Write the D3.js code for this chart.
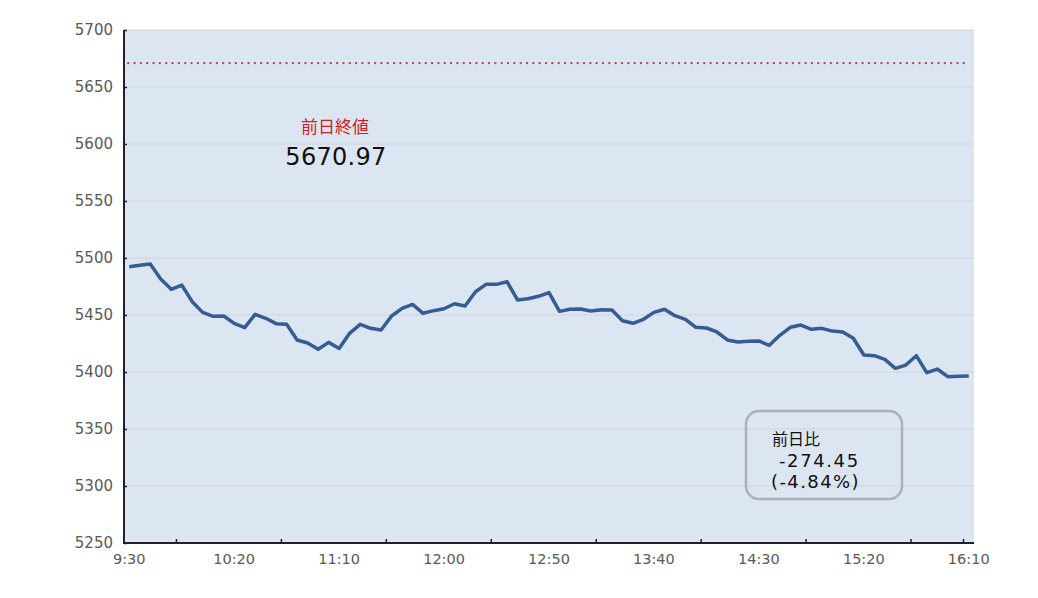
<!DOCTYPE html>
<html><head><meta charset="utf-8">
<script src="https://cdn.jsdelivr.net/npm/d3@7"></script>
<style>
html,body{margin:0;padding:0;background:#fff;}
svg{display:block;}
text{font-family:"DejaVu Sans","Noto Sans CJK JP",sans-serif;}
.cjk{font-family:"Noto Sans CJK JP","DejaVu Sans",sans-serif;}
</style></head>
<body>
<svg id="chart" width="1038" height="598"></svg>
<script>
const times = ["9:30","9:35","9:40","9:45","9:50","9:55","10:00","10:05","10:10","10:15",
"10:20","10:25","10:30","10:35","10:40","10:45","10:50","10:55","11:00","11:05",
"11:10","11:15","11:20","11:25","11:30","11:35","11:40","11:45","11:50","11:55",
"12:00","12:05","12:10","12:15","12:20","12:25","12:30","12:35","12:40","12:45",
"12:50","12:55","13:00","13:05","13:10","13:15","13:20","13:25","13:30","13:35",
"13:40","13:45","13:50","13:55","14:00","14:05","14:10","14:15","14:20","14:25",
"14:30","14:35","14:40","14:45","14:50","14:55","15:00","15:05","15:10","15:15",
"15:20","15:25","15:30","15:35","15:40","15:45","15:50","15:55","16:00","16:05","16:10"];
const values = [5492.4,5493.6,5494.7,5481.6,5472.5,5476.3,5461.7,5452.3,5448.8,5449.1,
5442.7,5438.9,5450.6,5447.1,5442.4,5441.8,5428.1,5425.4,5419.9,5426.0,
5420.7,5433.9,5441.8,5438.3,5436.8,5449.1,5455.8,5459.3,5451.5,5453.8,
5455.5,5459.9,5457.9,5470.4,5476.9,5476.9,5479.2,5463.2,5464.3,5466.4,
5469.6,5453.2,5455.0,5455.3,5453.5,5454.7,5454.4,5445.0,5442.7,5446.2,
5452.3,5455.0,5449.4,5446.2,5439.2,5438.6,5435.1,5428.1,5426.3,5426.9,
5427.2,5423.4,5432.2,5439.2,5441.2,5437.4,5438.3,5435.9,5435.1,5429.6,
5414.9,5414.3,5411.1,5403.2,5406.1,5414.3,5399.4,5402.6,5395.9,5396.2,5396.5];
const tickLabels = ["9:30","10:20","11:10","12:00","12:50","13:40","14:30","15:20","16:10"];
const tickMarkAt = ["9:55","10:45","11:35","12:25","13:15","14:05","14:55","15:45","16:10"];
const yTicks = [5250,5300,5350,5400,5450,5500,5550,5600,5650,5700];
const prevClose = 5670.97;
const prevLabel = "前日終値";
const diffLabel = "前日比";
const diffValue = "-274.45";
const diffPct = "(-4.84%)";

const svg = d3.select("#chart");
const L=124, R=974, T=30, B=543;
const x = d3.scaleBand().domain(times).range([L,R]).padding(0);
const bw = x.bandwidth();
const cx = t => x(t)+bw/2;
const y = d3.scaleLinear().domain([5250,5700]).range([B,T]);

svg.append("rect").attr("x",L).attr("y",T).attr("width",R-L).attr("height",B-T).attr("fill","#dce6f2");

// gridlines
svg.append("g").selectAll("line").data(yTicks.filter(v=>v>5250)).join("line")
  .attr("x1",L).attr("x2",R).attr("y1",d=>y(d)).attr("y2",d=>y(d))
  .attr("stroke","#d6d3d0").attr("stroke-width",1);

// y axis
const yAxis = d3.axisRight(y).tickValues(yTicks).tickSize(3).tickFormat("");
const gy = svg.append("g").attr("transform",`translate(${L},0)`).call(yAxis);
gy.select(".domain").remove();
gy.selectAll(".tick line").attr("stroke","#222").attr("stroke-width",1.5);
svg.append("line").attr("x1",L).attr("x2",L).attr("y1",T).attr("y2",B+1).attr("stroke","#222").attr("stroke-width",2);
svg.append("g").selectAll("text").data(yTicks).join("text")
  .attr("x",113).attr("y",d=>y(d)).attr("dy","0.36em").attr("text-anchor","end")
  .attr("font-size",15).attr("fill","#595959").text(d=>d);

// x axis
svg.append("line").attr("x1",L-1).attr("x2",R).attr("y1",B).attr("y2",B).attr("stroke","#222").attr("stroke-width",2);
svg.append("g").selectAll("line").data(tickMarkAt).join("line")
  .attr("x1",d=>x(d)).attr("x2",d=>x(d))
  .attr("y1",B).attr("y2",B-4).attr("stroke","#222").attr("stroke-width",1.5);
svg.append("g").selectAll("text").data(tickLabels).join("text")
  .attr("x",d=>cx(d)).attr("y",564).attr("text-anchor","middle")
  .attr("font-size",14.5).attr("fill","#595959").text(d=>d);

// previous close dotted line
svg.append("line").attr("x1",cx(times[0])-1).attr("x2",cx(times[times.length-1]))
  .attr("y1",y(prevClose)).attr("y2",y(prevClose))
  .attr("stroke","#d03a3a").attr("stroke-width",2.4).attr("stroke-linecap","round")
  .attr("stroke-dasharray","0 6.33");

// series line
const line = d3.line().x((d,i)=>cx(times[i])).y(d=>y(d));
svg.append("path").datum(values).attr("d",line).attr("fill","none")
  .attr("stroke","#335d93").attr("stroke-width",3.5).attr("stroke-linejoin","round");

// annotations
svg.append("text").attr("class","cjk").attr("x",335).attr("y",133).attr("text-anchor","middle")
  .attr("font-size",17).attr("fill","#cc1f1f").text(prevLabel);
svg.append("text").attr("x",336).attr("y",165).attr("text-anchor","middle")
  .attr("font-size",24).attr("letter-spacing",0.3).attr("fill","#111").text(prevClose.toFixed(2));

svg.append("rect").attr("x",746).attr("y",411).attr("width",156).attr("height",88)
  .attr("rx",13).attr("fill","none").attr("stroke","#a9b0b8").attr("stroke-width",2.5);
svg.append("text").attr("class","cjk").attr("x",772).attr("y",445)
  .attr("font-size",16).attr("fill","#111").text(diffLabel);
svg.append("text").attr("x",779).attr("y",467)
  .attr("font-size",18).attr("letter-spacing",1.6).attr("fill","#111").text(diffValue);
svg.append("text").attr("x",771).attr("y",488)
  .attr("font-size",18).attr("letter-spacing",1.4).attr("fill","#111").text(diffPct);
</script>
</body></html>
